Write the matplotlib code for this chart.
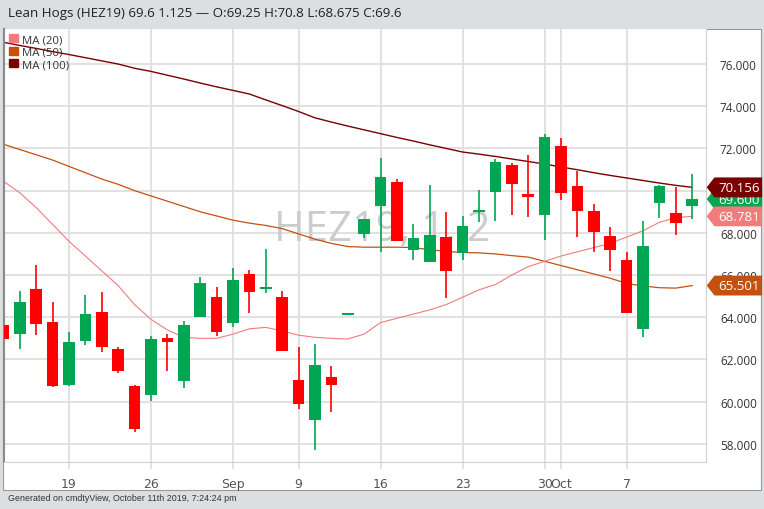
import matplotlib.pyplot as plt
from matplotlib.patches import Rectangle, Polygon, Patch
from matplotlib.transforms import blended_transform_factory
import numpy as np

# trading days shown (Aug 13 - Oct 11 2019)
dates = ['2019-08-13', '2019-08-14', '2019-08-15', '2019-08-16', '2019-08-19',
         '2019-08-20', '2019-08-21', '2019-08-22', '2019-08-23', '2019-08-26',
         '2019-08-27', '2019-08-28', '2019-08-29', '2019-08-30', '2019-09-03',
         '2019-09-04', '2019-09-05', '2019-09-06', '2019-09-09', '2019-09-10',
         '2019-09-11', '2019-09-12', '2019-09-13', '2019-09-16', '2019-09-17',
         '2019-09-18', '2019-09-19', '2019-09-20', '2019-09-23', '2019-09-24',
         '2019-09-25', '2019-09-26', '2019-09-27', '2019-09-30', '2019-10-01',
         '2019-10-02', '2019-10-03', '2019-10-04', '2019-10-07', '2019-10-08',
         '2019-10-09', '2019-10-10', '2019-10-11']

opens = [63.63, 63.19, 65.34, 63.79, 60.79, 62.87, 64.26, 62.49, 60.75, 60.31,
         63.00, 60.99, 64.02, 64.97, 63.71, 66.05, 65.35, 64.97, 61.04, 59.14,
         61.18, 64.12, 67.93, 69.28, 70.42, 67.20, 66.63, 67.79, 67.04, 68.98,
         69.95, 71.21, 69.80, 68.84, 72.10, 70.23, 69.05, 67.86, 66.73, 63.44,
         69.40, 68.94, 69.25]
highs = [63.70, 65.26, 66.47, 64.71, 63.28, 65.05, 65.21, 62.57, 60.80, 63.09,
         63.20, 63.83, 65.92, 65.42, 66.32, 66.24, 67.23, 65.26, 62.60, 62.72,
         61.70, 64.17, 68.65, 71.53, 70.55, 68.42, 70.27, 69.00, 68.78, 70.03,
         71.50, 71.29, 71.69, 72.68, 72.49, 70.94, 69.36, 68.26, 67.08, 68.57,
         70.27, 70.16, 70.80]
lows = [62.90, 62.49, 63.16, 60.70, 60.72, 62.68, 62.36, 61.36, 58.57, 60.03,
        61.46, 60.63, 64.00, 63.12, 63.52, 64.20, 65.13, 62.40, 59.65, 57.72,
        59.52, 64.12, 67.77, 67.08, 67.60, 66.71, 66.60, 64.90, 66.71, 68.50,
        68.57, 68.84, 68.73, 67.67, 69.55, 67.82, 67.10, 66.20, 64.18, 63.05,
        68.69, 67.90, 68.675]
closes = [62.97, 64.73, 63.68, 60.73, 62.81, 64.14, 62.60, 61.46, 58.70, 62.97,
          62.84, 63.63, 65.62, 63.31, 65.78, 65.18, 65.42, 62.41, 59.89, 61.73,
          60.80, 64.17, 68.65, 70.63, 67.63, 67.77, 67.90, 66.20, 68.34, 69.05,
          71.37, 70.31, 69.72, 72.55, 69.89, 69.05, 68.02, 67.18, 64.20, 67.36,
          70.20, 68.475, 69.60]

ma20 = [70.45, 69.90, 69.20, 68.40, 67.60, 66.90, 66.20, 65.50, 64.60, 63.90,
        63.40, 63.05, 63.00, 63.00, 63.20, 63.45, 63.52, 63.35, 63.15, 63.05,
        63.00, 62.97, 63.20, 63.75, 63.95, 64.15, 64.35, 64.60, 64.95, 65.30,
        65.55, 66.00, 66.40, 66.65, 66.90, 67.10, 67.30, 67.50, 67.80, 68.10,
        68.50, 68.72, 68.781]
ma50 = [72.20, 71.95, 71.70, 71.45, 71.15, 70.85, 70.55, 70.30, 70.00, 69.75,
        69.50, 69.25, 69.00, 68.80, 68.60, 68.46, 68.35, 68.20, 67.95, 67.70,
        67.50, 67.35, 67.32, 67.32, 67.32, 67.30, 67.20, 67.12, 67.07, 67.05,
        67.00, 66.92, 66.85, 66.65, 66.45, 66.25, 66.05, 65.85, 65.60, 65.48,
        65.40, 65.38, 65.501]
ma100 = [77.03, 76.88, 76.74, 76.59, 76.45, 76.30, 76.15, 76.00, 75.80, 75.65,
         75.47, 75.29, 75.10, 74.92, 74.75, 74.58, 74.30, 74.03, 73.75, 73.45,
         73.25, 73.06, 72.88, 72.70, 72.52, 72.35, 72.17, 72.00, 71.83, 71.73,
         71.62, 71.50, 71.38, 71.26, 71.12, 70.99, 70.85, 70.72, 70.60, 70.48,
         70.36, 70.25, 70.156]

tick_dates = ['2019-08-19', '2019-08-26', '2019-09-03', '2019-09-09', '2019-09-16',
              '2019-09-23', '2019-09-30', '2019-10-01', '2019-10-07']
tick_labels = ['19', '26', 'Sep', '9', '16', '23', '30', 'Oct', '7']
y_ticks = [58, 60, 62, 64, 66, 68, 70, 72, 74, 76]

GREEN = '#00a651'
RED = '#ff0000'
C20 = '#f27b7b'
C50 = '#c4510f'
C100 = '#7a0000'

x = np.arange(len(dates))
o = np.array(opens)
c = np.array(closes)
up = c >= o

fig = plt.figure(figsize=(7.64, 5.10), dpi=100, facecolor='#dcdfe2')
W, H = 764, 510

# white chart panel
fig.patches.append(Rectangle((3 / W, 1 - 491 / H), 758 / W, 461 / H, transform=fig.transFigure,
                             facecolor='white', edgecolor='#9a9a9a', lw=0.8, zorder=-5))

ax = fig.add_axes([4 / W, 1 - 463 / H, 702 / W, 433 / H])
ax.set_facecolor('white')
ax.set_xlim(0.04, 42.84)
ax.set_ylim(57.14, 77.66)

# grid
ax.set_yticks(y_ticks)
ax.set_yticklabels([f'{v:.3f}' for v in y_ticks])
ax.set_xticks([dates.index(d) for d in tick_dates])
ax.set_xticklabels(tick_labels)
ax.grid(True, color='#dedede', lw=1.3, zorder=0)
ax.set_axisbelow(True)

ax.yaxis.tick_right()
ax.tick_params(axis='y', length=0, pad=10, labelsize=8.5, labelcolor='#333333')
ax.tick_params(axis='x', length=5, color='#dedede', width=1.3, pad=6, labelsize=9, labelcolor='#555555')
for lab in ax.get_xticklabels():
    lab.set_family(['Liberation Sans Narrow', 'DejaVu Sans'])
for lab in ax.get_yticklabels():
    lab.set_family(['Open Sans', 'DejaVu Sans'])
ax.spines['top'].set_visible(False)
ax.spines['left'].set_color('#8a8a8a')
ax.spines['left'].set_linewidth(1.5)
ax.spines['right'].set_color('#d0d0d0')
ax.spines['bottom'].set_color('#d0d0d0')

# watermark
ax.text(23.1, 68.2, 'HEZ19, 1, 2', fontsize=30, color='#cccccc', ha='center', va='center',
        family=['Open Sans', 'DejaVu Sans'], zorder=1)

# moving averages
ax.plot(x, ma100, color=C100, lw=1.0, zorder=2)
ax.plot(x, ma50, color=C50, lw=0.9, zorder=2)
ax.plot(x, ma20, color=C20, lw=0.8, zorder=2)

# candles
colors = np.where(up, GREEN, RED)
ax.vlines(x, lows, highs, colors=colors, lw=1.2, zorder=3)
bottoms = np.minimum(o, c)
heights = np.maximum(np.abs(c - o), 0.1)
ax.bar(x, heights, 0.71, bottom=bottoms, color=colors, lw=0, zorder=4)

# legend
handles = [Patch(color=C20, label='MA (20)'), Patch(color=C50, label='MA (50)'),
           Patch(color=C100, label='MA (100)')]
leg = ax.legend(handles=handles, loc='upper left', frameon=False,
                handlelength=0.75, handleheight=0.75, handletextpad=0.35,
                labelspacing=0.12, borderaxespad=0.25, borderpad=0.2,
                prop={'family': ['Open Sans', 'DejaVu Sans'], 'size': 8.2})
for t in leg.get_texts():
    t.set_color('#333333')

# value tags on the right axis (last price first, so the MA tags cover it)
tr = blended_transform_factory(ax.transAxes, ax.transData)
tags = [(closes[-1], GREEN, '69.600'), (ma20[-1], C20, f'{ma20[-1]:.3f}'),
        (ma100[-1], C100, f'{ma100[-1]:.3f}'), (ma50[-1], C50, f'{ma50[-1]:.3f}')]
hh = 0.47
x0, x1, x2 = 1.001, 1.012, 1.08
for k, (val, col, txt) in enumerate(tags):
    z = 10 + 2 * k
    poly = Polygon([(x0, val), (x1, val + hh), (x2, val + hh), (x2, val - hh), (x1, val - hh)],
                   closed=True, transform=tr, facecolor=col, edgecolor='none',
                   clip_on=False, zorder=z)
    ax.add_patch(poly)
    ax.text(1.047, val, txt, transform=tr, ha='center', va='center', color='white',
            fontsize=9.6, family=['Open Sans', 'DejaVu Sans'], zorder=z + 0.5, clip_on=False)

# header and footer
fig.text(8 / W, 1 - 13 / H, 'Lean Hogs (HEZ19) 69.6 1.125 — O:69.25 H:70.8 L:68.675 C:69.6',
         fontsize=9.6, color='#222222', va='center', family=['Open Sans', 'DejaVu Sans'])
fig.text(8 / W, 1 - 499 / H, 'Generated on cmdtyView, October 11th 2019, 7:24:24 pm',
         fontsize=6.4, color='#333333', va='center', family=['Liberation Sans', 'DejaVu Sans'])

fig.savefig('out.png', dpi=100, facecolor=fig.get_facecolor())
